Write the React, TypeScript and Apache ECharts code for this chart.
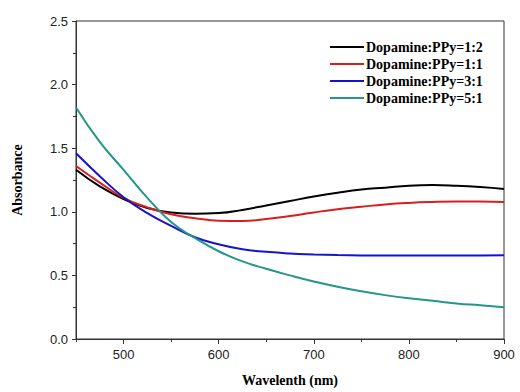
import React, { useEffect, useRef } from "react";
import * as echarts from "echarts";

const wavelengths = [450, 475, 500, 525, 550, 575, 600, 625, 650, 675, 700, 725, 750, 775, 800, 825, 850, 875, 900];
const seriesNames = ["Dopamine:PPy=1:2", "Dopamine:PPy=1:1", "Dopamine:PPy=3:1", "Dopamine:PPy=5:1"];
const ratio12 = [1.33, 1.2, 1.1, 1.03, 0.995, 0.985, 0.99, 1.015, 1.05, 1.085, 1.12, 1.15, 1.175, 1.19, 1.205, 1.21, 1.205, 1.195, 1.18];
const ratio11 = [1.36, 1.23, 1.11, 1.035, 0.98, 0.95, 0.93, 0.928, 0.943, 0.967, 0.995, 1.02, 1.04, 1.058, 1.07, 1.077, 1.08, 1.08, 1.077];
const ratio31 = [1.46, 1.28, 1.115, 0.99, 0.89, 0.8, 0.745, 0.705, 0.685, 0.672, 0.665, 0.66, 0.657, 0.656, 0.656, 0.656, 0.657, 0.657, 0.658];
const ratio51 = [1.82, 1.55, 1.33, 1.11, 0.92, 0.795, 0.69, 0.61, 0.552, 0.5, 0.452, 0.41, 0.375, 0.345, 0.32, 0.3, 0.28, 0.265, 0.25];
const xMajorTicks = [500, 600, 700, 800, 900];
const xMinorTicks = [450, 550, 650, 750, 850];
const colors = ["#000000", "#d91e1e", "#1414c8", "#24968a"];

export default function App() {
  const ref = useRef<HTMLDivElement>(null);
  useEffect(() => {
    if (!ref.current) return;
    const chart = echarts.init(ref.current, null, { renderer: "svg" });
    const allData = [ratio12, ratio11, ratio31, ratio51];
    const tickFont = { fontFamily: "Liberation Sans", fontSize: 13, color: "#222" };
    chart.setOption({
      animation: false,
      grid: { left: 76, right: 16, top: 21, bottom: 52, show: true, borderColor: "#333", borderWidth: 1 },
      legend: {
        orient: "vertical",
        left: 325,
        top: 35,
        icon: "rect",
        itemWidth: 34,
        itemHeight: 2,
        itemGap: 3,
        textStyle: { fontFamily: "Liberation Serif", fontWeight: "bold", fontSize: 14, color: "#000", padding: [0, 0, 0, -3] },
        data: seriesNames,
      },
      xAxis: [
        {
          type: "value",
          min: 450,
          max: 900,
          name: "Wavelenth (nm)",
          nameLocation: "middle",
          nameGap: 34,
          nameTextStyle: { fontFamily: "Liberation Serif", fontWeight: "bold", fontSize: 14, color: "#000" },
          axisLine: { lineStyle: { color: "#333", width: 1 } },
          axisTick: { show: true, length: 5, customValues: xMajorTicks, lineStyle: { color: "#333" } },
          axisLabel: { ...tickFont, margin: 9, customValues: xMajorTicks },
          splitLine: { show: false },
        },
        {
          type: "value",
          min: 450,
          max: 900,
          position: "bottom",
          axisLine: { show: false },
          axisTick: { show: true, length: 3, customValues: xMinorTicks, lineStyle: { color: "#333" } },
          axisLabel: { show: false },
          splitLine: { show: false },
        },
      ],
      yAxis: {
        type: "value",
        min: 0,
        max: 2.5,
        interval: 0.5,
        name: "Absorbance",
        nameLocation: "middle",
        nameGap: 52,
        nameTextStyle: { fontFamily: "Liberation Serif", fontWeight: "bold", fontSize: 14, color: "#000" },
        axisLine: { show: true, lineStyle: { color: "#333", width: 1 } },
        axisTick: { show: true, length: 4, lineStyle: { color: "#333" } },
        minorTick: { show: true, splitNumber: 2, length: 3, lineStyle: { color: "#333" } },
        axisLabel: { ...tickFont, margin: 8, formatter: (v: number) => v.toFixed(1) },
        splitLine: { show: false },
      },
      series: seriesNames.map((name, i) => ({
        name,
        type: "line",
        xAxisIndex: 0,
        smooth: 0.5,
        symbol: "none",
        lineStyle: { color: colors[i], width: 2 },
        itemStyle: { color: colors[i] },
        data: wavelengths.map((w, j) => [w, allData[i][j]]),
      })),
    });
    return () => chart.dispose();
  }, []);
  return <div ref={ref} style={{ width: 520, height: 392, position: "absolute", left: 0, top: 0 }} />;
}
